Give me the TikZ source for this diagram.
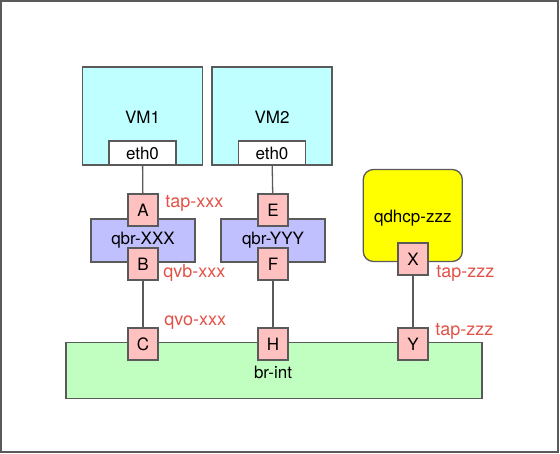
\documentclass[tikz,border=0pt]{standalone}
\usepackage{fontspec}
\setmainfont{TeX Gyre Heros}
\usepackage{xcolor}
\usetikzlibrary{positioning}

\definecolor{vmcyan}{RGB}{192,255,255}
\definecolor{qbrblue}{RGB}{192,192,255}
\definecolor{portpink}{RGB}{255,192,192}
\definecolor{brgreen}{RGB}{192,255,192}
\definecolor{dhcpyellow}{RGB}{255,255,0}
\definecolor{tagred}{RGB}{226,82,72}
\definecolor{linegray}{RGB}{90,90,90}

\begin{document}
\begin{tikzpicture}[
        x=1pt, y=-1pt,
        line width=1.3pt,
        font=\fontsize{17}{20}\selectfont,
        box/.style={draw=linegray, rectangle, inner sep=0pt},
        vm/.style={box, fill=vmcyan, minimum width=120pt, minimum height=98pt},
        eth/.style={box, fill=white, minimum width=67pt, minimum height=24pt},
        qbr/.style={box, fill=qbrblue, minimum width=104pt, minimum height=43pt},
        port/.style={box, fill=portpink, minimum width=30pt, minimum height=32pt},
        bridge/.style={box, fill=brgreen, minimum width=416pt, minimum height=56pt},
        dhcp/.style={box, fill=dhcpyellow, rounded corners=10pt, minimum width=99pt, minimum height=92pt},
        tag/.style={text=tagred, inner sep=0pt, font=\fontsize{18}{21}\selectfont},
        link/.style={draw=linegray}
      ]
        % Outer frame
        \useasboundingbox (0,0) rectangle (560,454);
        \draw[linegray, line width=1.5pt] (1,1) rectangle (558,452);

        % Virtual machines
        \node[vm] (vm1) at (142.5,116) {};
        \node at (142.5,117) {VM1};
        \node[eth, anchor=south] (eth1) at (vm1.south) {eth0};
        \node[vm] (vm2) at (272,116) {};
        \node at (272,117) {VM2};
        \node[eth, anchor=south] (eth2) at (vm2.south) {eth0};

        % Linux bridges
        \node[qbr] (qbrx) at (143,240.5) {qbr-XXX};
        \node[qbr] (qbry) at (273,240.5) {qbr-YYY};

        % Integration bridge and dhcp namespace
        \node[bridge] (brint) at (274,370.7) {};
        \node at (273,372) {br-int};
        \node[dhcp] (qdhcp) at (412.8,215.5) {};
        \node at (412.8,218.5) {qdhcp-zzz};

        % Ports
        \node[port] (A) at (143,210) {A};
        \node[port] (B) at (143,264) {B};
        \node[port] (C) at (143,344) {C};
        \node[port] (E) at (273,210) {E};
        \node[port] (F) at (273,264) {F};
        \node[port] (H) at (273,344) {H};
        \node[port] (X) at (413,259) {X};
        \node[port] (Y) at (413,344) {Y};

        % Port names
        \node[tag, right=6pt of A, yshift=6.7pt] (tapA) {tap-xxx};
        \node[tag, right=4pt of B, yshift=-8.7pt] (qvbB) {qvb-xxx};
        \node[tag, right=5pt of C, yshift=21pt] (qvoC) {qvo-xxx};
        \node[tag, right=7pt of X, yshift=-14.6pt] (tapX) {tap-zzz};
        \node[tag, right=6pt of Y, yshift=12.3pt] (tapY) {tap-zzz};

        % Links
        \path[link]
        (eth1) edge (A)
        (eth2) edge (E)
        (B) edge (C)
        (F) edge (H)
        (X) edge (Y);
    \end{tikzpicture}
\end{document}
